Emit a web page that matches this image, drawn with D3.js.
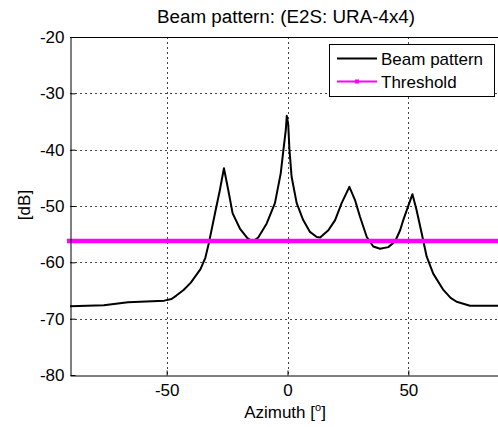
<!DOCTYPE html>
<html><head><meta charset="utf-8">
<script src="https://cdn.jsdelivr.net/npm/d3@7"></script>
<style>
html,body{margin:0;padding:0;background:#fff;overflow:hidden;}
svg{display:block;font-family:"Liberation Sans",Arial,Helvetica,sans-serif;}
</style></head>
<body>
<svg id="chart" width="498" height="427"></svg>
<script>
const azimuth = [-90,-76,-66,-51,-48,-46,-43,-40,-36,-34,-32.5,-30,-28,-26.3,-24.5,-22.7,-19.7,-16.6,-14.5,-12.1,-8.6,-5.2,-2.8,-1.7,-0.7,-0.3,0.3,0.8,1.7,3.8,6.5,9.3,12.1,13.5,16.9,19.7,22.4,25.6,27.9,30,32.8,35.5,38.3,41.7,44.5,46.6,47.9,51.7,53.4,55.5,57.6,60.3,64.5,67.5,70,75.5,90];
const beamDb = [-67.8,-67.6,-67.1,-66.8,-66.5,-65.9,-64.9,-63.6,-61.2,-59.2,-56.5,-51.3,-47.2,-43.3,-47.2,-51.3,-54.0,-55.7,-56.3,-55.6,-53.1,-49.5,-44.2,-40.1,-36.5,-34.0,-35.5,-40.0,-44.8,-49.5,-52.5,-54.6,-55.5,-55.6,-54.3,-52.5,-49.5,-46.6,-48.9,-51.9,-55.5,-57.2,-57.6,-57.3,-56.3,-54.3,-52.5,-47.9,-50.7,-54.8,-59.0,-62.0,-64.9,-66.3,-67.0,-67.7,-67.7];
const thresholdDb = -56.2;
const xTicks = [-50, 0, 50];
const yTicks = [-80,-70,-60,-50,-40,-30,-20];
const titleText = "Beam pattern: (E2S: URA-4x4)";
const legendLabels = ["Beam pattern", "Threshold"];

const svg = d3.select("#chart");
const L = 70, T = 37, R = 505, B = 375;
const x = d3.scaleLinear().domain([-90, 90]).range([L, R]);
const y = d3.scaleLinear().domain([-80, -20]).range([B, T]);
const fs = 17;
const FF = "Liberation Sans, Arial, sans-serif";

// grid
const grid = svg.append("g");
grid.selectAll("line.gx").data(xTicks).join("line")
  .attr("x1", d => Math.round(x(d)) + 0.5).attr("x2", d => Math.round(x(d)) + 0.5)
  .attr("y1", T).attr("y2", B)
  .attr("stroke", "#444").attr("stroke-width", 1).attr("stroke-dasharray", "2,3");
grid.selectAll("line.gy").data(yTicks.slice(1, -1)).join("line")
  .attr("y1", d => Math.round(y(d)) + 0.5).attr("y2", d => Math.round(y(d)) + 0.5)
  .attr("x1", L).attr("x2", R)
  .attr("stroke", "#444").attr("stroke-width", 1).attr("stroke-dasharray", "2,3");

// clip
svg.append("clipPath").attr("id", "clip").append("rect")
  .attr("x", L).attr("y", T).attr("width", R - L).attr("height", B - T);

const line = d3.line().x((d, i) => x(azimuth[i])).y(d => y(d));
svg.append("path").datum(beamDb).attr("clip-path", "url(#clip)")
  .attr("d", line).attr("fill", "none").attr("stroke", "#000").attr("stroke-width", 2)
  .attr("stroke-linejoin", "round");

svg.append("line").attr("x1", x(-90) - 3).attr("x2", x(90))
  .attr("y1", y(thresholdDb)).attr("y2", y(thresholdDb))
  .attr("stroke", "#ff00ff").attr("stroke-width", 4.5);

// axes
const xAxis = d3.axisBottom(x).tickValues(xTicks).tickSizeInner(-5).tickSizeOuter(0).tickPadding(8);
const gx = svg.append("g").attr("transform", `translate(0,${B + 0.5})`).call(xAxis);
const yAxis = d3.axisLeft(y).tickValues(yTicks).tickSizeInner(-5).tickSizeOuter(0).tickPadding(6);
const gy = svg.append("g").attr("transform", `translate(${L + 0.5},0)`).call(yAxis);
[gx, gy].forEach(g => {
  g.select(".domain").attr("stroke", "#000").attr("stroke-width", 1);
  g.selectAll(".tick line").attr("stroke", "#000");
  g.selectAll("text").attr("font-size", fs).attr("font-family", FF).attr("fill", "#000");
});
gx.selectAll(".tick text").text(d => d < 0 ? "-" + Math.abs(d) : d);
gy.selectAll(".tick text").text(d => d < 0 ? "-" + Math.abs(d) : d);
// top border
svg.append("line").attr("x1", L).attr("x2", R).attr("y1", T + 0.5).attr("y2", T + 0.5).attr("stroke", "#000");

// title
svg.append("text").attr("x", 286).attr("y", 23).attr("text-anchor", "middle")
  .attr("font-size", 18).attr("textLength", 258).attr("lengthAdjust", "spacingAndGlyphs").text(titleText);
// x label
const xl = svg.append("text").attr("x", 285).attr("y", 418).attr("text-anchor", "middle").attr("font-size", fs);
xl.append("tspan").text("Azimuth [");
xl.append("tspan").attr("font-size", 11).attr("dy", -7).text("o");
xl.append("tspan").attr("dy", 7).text("]");
// y label
svg.append("text").attr("transform", "translate(30,205) rotate(-90)").attr("text-anchor", "middle")
  .attr("font-size", fs).text("[dB]");

// legend
const lg = svg.append("g");
lg.append("rect").attr("x", 329.5).attr("y", 44.5).attr("width", 165).attr("height", 52)
  .attr("fill", "#fff").attr("stroke", "#000").attr("stroke-width", 1);
lg.append("line").attr("x1", 337).attr("x2", 377).attr("y1", 58.5).attr("y2", 58.5).attr("stroke", "#000").attr("stroke-width", 2);
lg.append("line").attr("x1", 337).attr("x2", 377).attr("y1", 81.5).attr("y2", 81.5).attr("stroke", "#ff00ff").attr("stroke-width", 2);
lg.append("rect").attr("x", 355).attr("y", 79.5).attr("width", 4).attr("height", 4).attr("fill", "#ff00ff");
lg.selectAll("text.lt").data(legendLabels).join("text")
  .attr("x", 381).attr("y", (d, i) => 65 + i * 23).attr("font-size", fs).text(d => d);
</script>
</body></html>
